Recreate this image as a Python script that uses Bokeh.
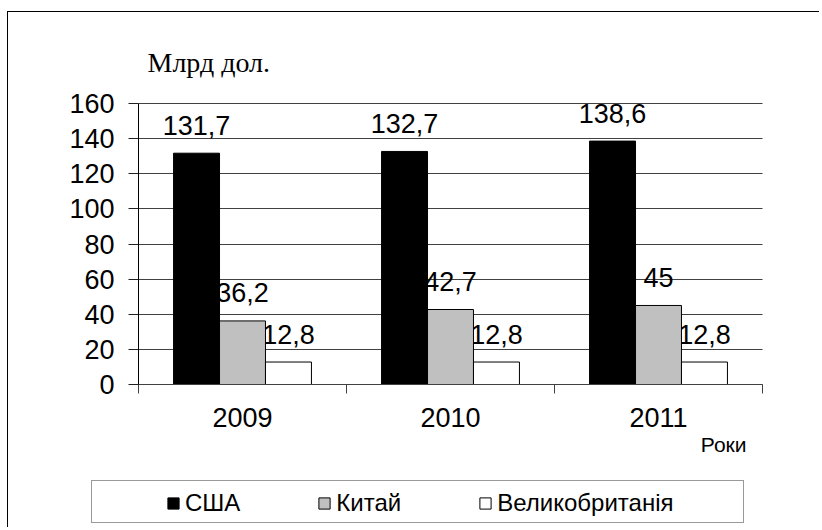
from bokeh.plotting import figure
from bokeh.models import (ColumnDataSource, FixedTicker, Legend, LegendItem, Range1d)
from bokeh.embed import file_html
from bokeh.resources import INLINE
from bokeh.core.properties import value

# ---- data ----
years = ["2009", "2010", "2011"]
series_names = ["США", "Китай", "Великобританія"]
usa = [131.7, 132.7, 138.6]
china = [36.2, 42.7, 45.0]
uk = [12.8, 12.8, 12.8]
y_ticks = [0, 20, 40, 60, 80, 100, 120, 140, 160]
y_tick_labels = ["0", "20", "40", "60", "80", "100", "120", "140", "160"]
y_title = "Млрд дол."
x_title = "Роки"

series_values = [usa, china, uk]
series_colors = ["#000000", "#C0C0C0", "#FFFFFF"]
offsets = [-0.221, 0.0, 0.221]
bar_width = 0.221
n_cat = len(years)
y_max = y_ticks[-1]

def fmt(v):
    return ("%g" % v).replace(".", ",")

# ---- layout (canvas pixels) ----
W, H = 812, 516
MB_L, MB_R, MB_T, MB_B = 40, 0, 20, 0
# where the axes should sit inside the canvas
AX_L, AX_R, AX_T, AX_B = 130, 754, 91, 372
FL, FR, FT, FB = MB_L, W - MB_R, MB_T, H - MB_B
sx = (AX_R - AX_L) / n_cat
sy = (AX_B - AX_T) / y_max
x_range = Range1d(-(AX_L - FL) / sx, n_cat + (FR - AX_R) / sx)
y_range = Range1d(-(FB - AX_B) / sy, y_max + (AX_T - FT) / sy)

p = figure(width=W, height=H, x_range=x_range, y_range=y_range,
           output_backend="svg", toolbar_location=None, x_axis_location="above",
           min_border_left=MB_L, min_border_right=MB_R,
           min_border_top=MB_T, min_border_bottom=MB_B)
p.margin = (11, 0, 0, 7)
p.styles = {"border-left": "1px solid #000000", "border-top": "1px solid #000000"}
p.outline_line_color = None
p.background_fill_color = "white"
p.border_fill_color = "white"

centers = [i + 0.5 for i in range(n_cat)]

# y axis at x = 0 (its numbers are drawn as text below, so they are not clipped)
yt = FixedTicker(ticks=y_ticks)
p.yaxis.ticker = yt
p.yaxis.fixed_location = 0
p.yaxis.bounds = (0, y_max)
p.yaxis.major_tick_out = 10
p.yaxis.major_tick_in = 0
p.yaxis.minor_tick_line_color = None
p.yaxis.axis_line_color = "black"
p.yaxis.major_tick_line_color = "#202020"
p.yaxis.major_label_overrides = {t: "" for t in y_ticks}
p.yaxis.major_label_standoff = 0

# x axis line at y = 0 with category boundary ticks
xt = FixedTicker(ticks=[], minor_ticks=list(range(n_cat + 1)))
p.xaxis.ticker = xt
p.xaxis.fixed_location = 0
p.xaxis.bounds = (0, n_cat)
p.xaxis.major_tick_out = 0
p.xaxis.major_tick_in = 0
p.xaxis.major_label_standoff = 0
p.xaxis.minor_tick_out = 0
p.xaxis.minor_tick_in = 9
p.xaxis.minor_tick_line_color = "#404040"
p.xaxis.axis_line_color = "#404040"

# grid
p.xgrid.visible = False
p.ygrid.ticker = yt
p.ygrid.grid_line_color = "#404040"
p.ygrid.grid_line_width = 1
try:
    p.ygrid.cross_bounds = (0, n_cat)
except Exception:
    p.ygrid.visible = False
    p.segment(x0=[0] * len(y_ticks), x1=[n_cat] * len(y_ticks), y0=y_ticks, y1=y_ticks,
              line_color="#404040", line_width=1, level="underlay")

TF = value("Liberation Sans")

# y tick numbers
p.text(x=[0] * len(y_ticks), y=y_ticks, text=y_tick_labels, text_align="right",
       text_baseline="middle", x_offset=-24, y_offset=0,
       text_font=TF, text_font_size=value("27px"), text_color="black")

# category labels under the axis
p.text(x=centers, y=[0] * n_cat, text=years, text_align="center",
       text_baseline="middle", y_offset=33,
       text_font=TF, text_font_size=value("27px"), text_color="black")

# axis titles
p.text(x=[0], y=[y_max], text=[y_title], text_align="left", text_baseline="middle",
       x_offset=9, y_offset=-41,
       text_font=value("Liberation Serif"), text_font_size=value("28px"), text_color="black")
p.text(x=[n_cat], y=[0], text=[x_title], text_align="right", text_baseline="middle",
       x_offset=-16, y_offset=60,
       text_font=TF, text_font_size=value("21px"), text_color="black")

# value labels (drawn beneath bars, as in the original)
for vals, off in zip(series_values, offsets):
    src = ColumnDataSource(dict(x=[c + off for c in centers], y=vals,
                                t=[fmt(v) for v in vals]))
    p.text(x="x", y="y", text="t", source=src, text_align="center",
           text_baseline="middle", y_offset=-28,
           text_font=TF, text_font_size=value("27px"), text_color="black")

renderers = []
for vals, off, col in zip(series_values, offsets, series_colors):
    src = ColumnDataSource(dict(x=[c + off for c in centers], top=vals))
    r = p.vbar(x="x", top="top", width=bar_width, bottom=0, source=src,
               fill_color=col, line_color="black", line_width=1)
    renderers.append(r)

# main legend (location = bottom-left corner, px from the frame's bottom-left)
legend = Legend(items=[LegendItem(label=n, renderers=[r]) for n, r in zip(series_names, renderers)],
                orientation="horizontal", location=(AX_L - FL + 28, 11), padding=0, margin=0,
                spacing=77, label_width=0, label_height=0, glyph_width=14, glyph_height=14,
                label_standoff=5, border_line_color=None, background_fill_alpha=0,
                label_text_font="Liberation Sans", label_text_font_size="24px",
                label_text_color="black")
p.add_layout(legend, "center")

# legend frame (helper entry with an invisible glyph)
dummy = p.vbar(x=[], top=[], width=0.1, fill_alpha=0, line_alpha=0)
box = Legend(items=[LegendItem(label=" ", renderers=[dummy])], location=(AX_L - FL - 47, 5),
             padding=0, margin=0, spacing=0, glyph_width=651, glyph_height=41,
             label_height=0, label_width=0, label_standoff=0,
             label_text_font_size="1px",
             border_line_color="#333333", border_line_width=1.5,
             background_fill_alpha=0)
p.add_layout(box, "center")

open("out.html", "w").write(file_html(p, INLINE))
